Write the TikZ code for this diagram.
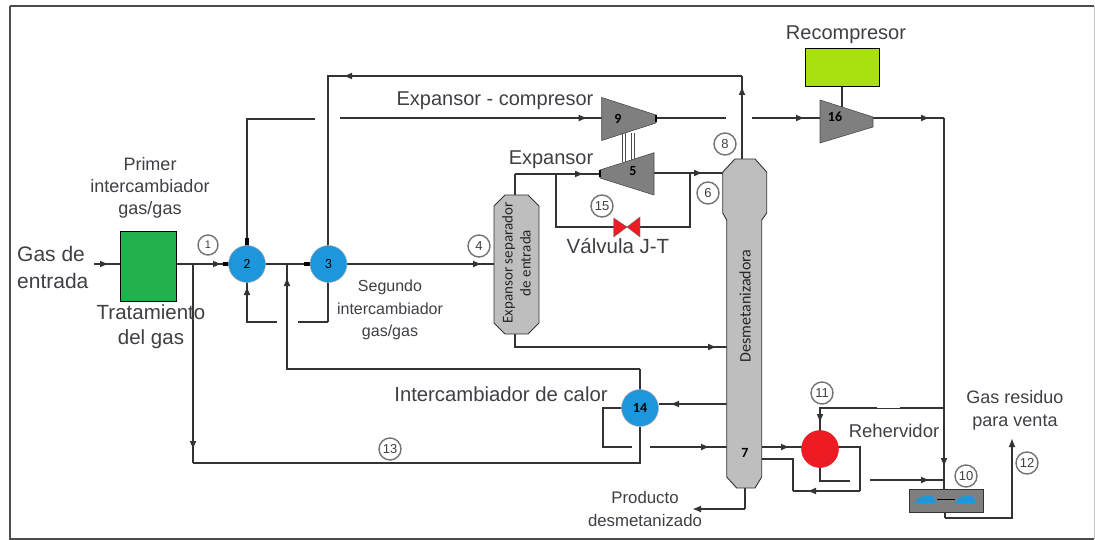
\documentclass[tikz,border=0pt]{standalone}
\usepackage{fontspec}
\setmainfont{Liberation Sans}
\newfontfamily\numfont{Carlito}
\usetikzlibrary{arrows.meta,decorations.markings}
\definecolor{txt}{HTML}{3F3F46}
\definecolor{pipec}{HTML}{333333}
\definecolor{exblue}{HTML}{1E96DC}
\definecolor{exgreen}{HTML}{22B14C}
\definecolor{exlime}{HTML}{A8E010}
\definecolor{exred}{HTML}{ED1C24}
\definecolor{turb}{HTML}{7F7F7F}
\definecolor{vessel}{HTML}{BEBEBE}
\tikzset{
  pipe/.style={draw=pipec,line width=1.8pt,line join=miter},
  stub/.style={draw=black,line width=3.5pt},
  tipat/.style={postaction={decorate,decoration={markings,mark=at position #1 with {\arrow{Latex[length=9pt,width=7pt]}}}}},
  hx/.style={circle,minimum size=37pt,inner sep=0pt,draw=gray!60,line width=.5pt,fill=exblue,font=\numfont\fontsize{14}{14}\selectfont,text=black},
  lab/.style={text=txt,align=center,inner sep=0pt},
  cnum/.style={circle,draw=gray!90!black,line width=1.4pt,fill=white,minimum size=22pt,inner sep=0pt,text=txt,font=\fontsize{13}{13}\selectfont},
  turbine/.style={fill=turb,draw=black!70,line width=.6pt},
  vess/.style={fill=vessel,draw=black!80,line width=.9pt},
  numtxt/.style={font=\numfont\fontsize{14}{14}\selectfont,text=black,inner sep=0pt},
  vtxt/.style={text=black!85,inner sep=0pt,rotate=90,align=center}
}
\begin{document}
\begin{tikzpicture}[x=1pt,y=-1pt]
\useasboundingbox (0,0) rectangle (1095,540);
\fill[white] (0,0) rectangle (1095,540);
\draw[draw=black!70,line width=2pt] (10,6.5) -- (1094,6.5);
\draw[draw=black!70,line width=2pt] (10,6.5) -- (10,538.5) -- (1094,538.5);
\draw[draw=black!25,line width=.8pt] (1094,6.5) -- (1094,538.5);

% coordinates
\coordinate (in) at (94,264);
\coordinate (trE) at (176.5,264);
\coordinate (trW) at (120,264);
\coordinate (j1) at (193,264);
\coordinate (j1b) at (193,463);
\coordinate (c14s) at (640,463);
\coordinate (g2a) at (315,119);
\coordinate (g2b) at (340,118);
\coordinate (g2c) at (247,119);
\coordinate (t9in) at (601.7,118);
\coordinate (t9out) at (656,118);
\coordinate (g9a) at (726,118);
\coordinate (g9b) at (752,118);
\coordinate (t16in) at (820,118);
\coordinate (t16out) at (873,118);
\coordinate (cr) at (944,118);
\coordinate (fanT) at (944,489);
\coordinate (fanB) at (945,512);
\coordinate (fb1) at (945,518);
\coordinate (fb2) at (1012,518);
\coordinate (venta) at (1012,438);
\coordinate (coltop) at (742,159);
\coordinate (t1) at (742,76);
\coordinate (t2) at (328,76);
\coordinate (c3c) at (328,264);
\coordinate (v4) at (494,264);
\coordinate (vt) at (515,195);
\coordinate (vt2) at (515,174);
\coordinate (t5in) at (600,174);
\coordinate (t5out) at (654,173);
\coordinate (col6) at (723,173);
\coordinate (by1) at (556,174);
\coordinate (by2) at (556,227);
\coordinate (by3) at (690,227);
\coordinate (by4) at (690,173);
\coordinate (valL) at (614,227);
\coordinate (valR) at (640,227);
\coordinate (vb) at (515,334);
\coordinate (vb2) at (515,347);
\coordinate (colv) at (727,347);
\coordinate (j2) at (287,264);
\coordinate (h1) at (287,369);
\coordinate (h2) at (640,369);
\coordinate (c14a) at (727,404);
\coordinate (c14b) at (659,404);
\coordinate (l14a) at (603,408);
\coordinate (l14b) at (603,447);
\coordinate (l14c) at (632,447);
\coordinate (l14d) at (650,447);
\coordinate (col14) at (727,447);
\coordinate (b1) at (247,322);
\coordinate (b2) at (277,322);
\coordinate (b3) at (298,322);
\coordinate (b4) at (328,322);
\coordinate (colr) at (762,447);
\coordinate (rehW) at (802,447);
\coordinate (colr2) at (762,459);
\coordinate (rehE) at (838,447);
\coordinate (r1) at (793,459);
\coordinate (r2) at (793,491);
\coordinate (r3) at (860,491);
\coordinate (r4) at (860,447);
\coordinate (r5) at (820,481);
\coordinate (r6) at (850,481);
\coordinate (r7) at (870,480);
\coordinate (r8) at (944,480);
\coordinate (r9) at (820,408);
\coordinate (r10) at (877,408);
\coordinate (r11) at (900,408);
\coordinate (r12) at (944,408);
\coordinate (colb) at (745,488);
\coordinate (colb2) at (745,509);
\coordinate (prod) at (692,509);
\coordinate (shT) at (841.7,87);
\coordinate (shB) at (841.7,107);

% pipes
\draw[pipe,tipat=15pt] (in) -- (trW);
\draw[pipe,tipat=-6pt] (trE) -- (228,264);
\draw[pipe,tipat=-13pt] (j1) -- (j1b);
\draw[pipe] (j1b) -- (c14s) -- (640,427);
\draw[pipe] (247,264) -- (c3c);
\draw[pipe] (247,264) -- (g2c) -- (g2a);
\draw[pipe,tipat=-14pt] (g2b) -- (t9in);
\draw[pipe] (t9out) -- (g9a);
\draw[pipe,tipat=-15pt] (g9b) -- (t16in);
\draw[pipe,tipat=57pt] (t16out) -- (cr);
\draw[pipe,tipat=-22pt] (cr) -- (fanT);
\draw[pipe] (fanB) -- (fb1);
\draw[pipe,-{Latex[length=9pt,width=7pt]}] (fb1) -- (fb2) -- (venta);
\draw[pipe,tipat=73pt] (coltop) -- (t1);
\draw[pipe,tipat=399pt] (t1) -- (t2) -- (c3c);
\draw[pipe,tipat=-12pt] (c3c) -- (v4);
\draw[pipe] (vt) -- (vt2);
\draw[pipe,tipat=-16pt] (vt2) -- (t5in);
\draw[pipe,tipat=49pt] (t5out) -- (col6);
\draw[pipe] (by1) -- (by2) -- (valL);
\draw[pipe] (valR) -- (by3) -- (by4);
\draw[pipe,tipat=-10pt] (vb) -- (vb2) -- (colv);
\draw[pipe,tipat=-13pt] (h2) -- (h1) -- (j2);
\draw[pipe] (640,408) -- (h2);
\draw[pipe,tipat=57pt] (c14a) -- (c14b);
\draw[pipe] (640,408) -- (l14a) -- (l14b) -- (l14c);
\draw[pipe,tipat=60pt] (l14d) -- (col14);
\draw[pipe] (b4) -- (c3c);
\draw[pipe] (b4) -- (b3);
\draw[pipe,tipat=-4pt] (b2) -- (b1) -- (247,282);
\draw[pipe,tipat=-12pt] (colr) -- (rehW);
\draw[pipe] (colr2) -- (r1) -- (r2);
\draw[pipe,tipat=53pt] (r3) -- (r2);
\draw[pipe] (rehE) -- (r4) -- (r3);
\draw[pipe] (820,449) -- (r5) -- (r6);
\draw[pipe,tipat=-14pt] (r7) -- (r8);
\draw[pipe] (r12) -- (r11);
\draw[pipe,line width=.7pt] (r11) -- (r10);
\draw[pipe,tipat=72pt] (r10) -- (r9) -- (820,431);
\draw[pipe] (colb) -- (colb2);
\draw[pipe,-{Latex[length=9pt,width=7pt]}] (colb2) -- (prod);
\draw[pipe] (shT) -- (shB);
\draw[stub] (247,238) -- (247,246);
\draw[stub] (223,264) -- (229,264);
\draw[stub] (304,264) -- (311,264);

% equipment
\node[draw=black,line width=1pt,fill=exgreen,minimum width=56.5pt,minimum height=70pt,inner sep=0pt] (trat) at (148.3,266.5) {};
\node[draw=black,line width=1pt,fill=exlime,minimum width=74.5pt,minimum height=38pt,inner sep=0pt] (recbox) at (842.7,68) {};
\node[hx] (c2) at (247,264) {2};
\node[hx] (c3) at (328.5,264) {3};
\node[hx] (c14) at (640,408) {\bfseries 14};
\node[hx,fill=exred,draw=exred] (reh) at (820,449) {};

% expander - compressor shaft
\foreach \sx in {622.5,625.5,631,634}{\draw[black!70,line width=.8pt] (\sx,133) -- (\sx,162);}

% turbines
\draw[turbine] (601.7,97.5) -- (656,115) -- (656,123) -- (601.7,140.5) -- cycle;
\node[numtxt] (n9) at (618,119) {\bfseries 9};
\draw[turbine] (654,152.7) -- (600,170) -- (600,178) -- (654,195) -- cycle;
\node[numtxt] (n5) at (633,171) {\bfseries 5};
\draw[turbine] (820,100) -- (873,117) -- (873,127) -- (820,143) -- cycle;
\node[numtxt] (n16) at (835,117) {\bfseries 16};
\draw[draw=black,line width=2.5pt] (656,115.5) -- (656,122.5);
\draw[draw=black,line width=2.5pt] (600,170.5) -- (600,177.5);

% valve
\fill[exred,draw=black!60,line width=.4pt] (613.7,218) -- (627,227) -- (613.7,237) -- cycle;
\fill[exred,draw=black!60,line width=.4pt] (640,217) -- (627,227) -- (640,237) -- cycle;

% vessels
\draw[vess] (505,195) -- (528,195) -- (539,206) -- (539,323) -- (528,334) -- (505,334) -- (494,323) -- (494,206) -- cycle;
\node[vtxt,font=\numfont\fontsize{15}{18}\selectfont] (sep) at (516.5,263) {Expansor separador\\de entrada};
\draw[vess] (735,159) -- (755,159) -- (766.7,172) -- (766.7,213) -- (761.7,220) -- (761.7,477) -- (755,488) -- (736.7,488) -- (726.7,477) -- (726.7,220) -- (722.7,213) -- (722.7,172) -- cycle;
\node[vtxt,font=\numfont\fontsize{16}{16}\selectfont] (des) at (745,306) {Desmetanizadora};
\node[numtxt] (n7) at (745,453) {\bfseries 7};

% fan
\draw[fill=turb,draw=black!80,line width=.8pt] (909,489) rectangle (983,512);
\draw[black,line width=1pt] (937,499.5) -- (955,499.5);
\fill[exblue] (915,503) .. controls (917,499) and (920,496) .. (925,496) -- (932,496) .. controls (935,499) .. (937,503) -- cycle;
\fill[exblue] (955,503) .. controls (957,499) and (960,496) .. (965,496) -- (972,496) .. controls (975,499) .. (976,503) -- cycle;

% labels
\node[lab,align=left,anchor=west,font=\fontsize{21}{27}\selectfont] (ge) at (17,267) {Gas de\\entrada};
\node[lab,font=\fontsize{18}{22}\selectfont] (l1) at (150,188) {Primer\\intercambiador\\gas/gas};
\node[lab,font=\fontsize{20.5}{25}\selectfont] (l2) at (151,327) {Tratamiento\\del gas};
\node[lab,font=\fontsize{16}{22.5}\selectfont] (l3) at (390,310) {Segundo\\intercambiador\\gas/gas};
\node[lab,font=\fontsize{20}{20}\selectfont] (l4) at (495,101) {Expansor - compresor};
\node[lab,font=\fontsize{20}{20}\selectfont] (l5) at (551,160) {Expansor};
\node[lab,font=\fontsize{20.5}{20}\selectfont] (l6) at (618,246) {Válvula J-T};
\node[lab,font=\fontsize{20.3}{20}\selectfont] (l7) at (501,394) {Intercambiador de calor};
\node[lab,font=\fontsize{18.5}{18}\selectfont] (l8) at (894,431) {Rehervidor};
\node[lab,font=\fontsize{18}{23}\selectfont] (l9) at (1015,410) {Gas residuo\\para venta};
\node[lab,font=\fontsize{16.8}{23}\selectfont] (l10) at (645,508.5) {Producto\\desmetanizado};
\node[lab,font=\fontsize{20}{20}\selectfont] (l11) at (846,35) {Recompresor};

% stream numbers
\node[cnum,minimum size=20pt,font=\fontsize{11}{11}\selectfont] (s1) at (208,245) {1};
\node[cnum] (s4) at (479,246) {4};
\node[cnum] (s8) at (725,144) {8};
\node[cnum] (s6) at (708,193) {6};
\node[cnum] (s15) at (602,206) {15};
\node[cnum] (s13) at (390,449) {13};
\node[cnum] (s11) at (822,393) {11};
\node[cnum] (s10) at (966,476) {10};
\node[cnum] (s12) at (1027,463) {12};
\end{tikzpicture}
\end{document}
